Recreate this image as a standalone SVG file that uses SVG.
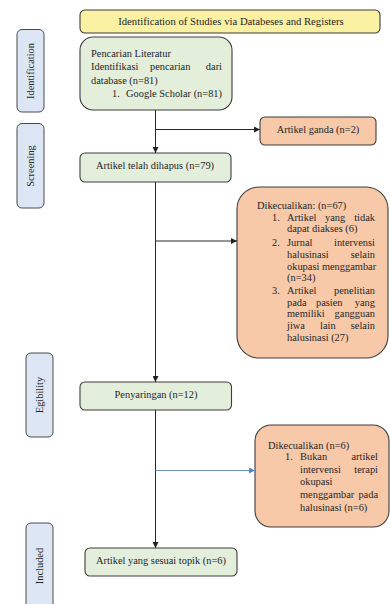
<svg xmlns="http://www.w3.org/2000/svg" width="390" height="604" viewBox="0 0 390 604">
<style>
text{font-family:"Liberation Serif","Times New Roman",serif;font-size:10.4px;fill:#262626}
.c{text-anchor:middle}
.e{text-anchor:end}
.side{fill:#dde6f4;stroke:#4a4a4a;stroke-width:1}
.grn{fill:#e3eedb;stroke:#3d3d3d;stroke-width:1.1}
.org{fill:#f7c9a9;stroke:#3d3d3d;stroke-width:1.1}
.yel{fill:#fbf1a2;stroke:#3d3d3d;stroke-width:1.1}
.ln{stroke:#2a2a2a;stroke-width:1;fill:none}
.bl{stroke:#6d93c4;stroke-width:1;fill:none}
</style>
<defs>
<marker id="ah" markerWidth="7" markerHeight="6" refX="6" refY="3" orient="auto" markerUnits="userSpaceOnUse">
<path d="M0,0 L6,3 L0,6 z" fill="#222"/>
</marker>
<marker id="ahb" markerWidth="7" markerHeight="6" refX="6" refY="3" orient="auto" markerUnits="userSpaceOnUse">
<path d="M0,0 L6,3 L0,6 z" fill="#5a83ba"/>
</marker>
</defs>
<rect width="390" height="604" fill="#ffffff"/>

<g id="side-identification">
<rect class="side" x="17" y="29.5" width="27" height="82.5" rx="5"/>
<text class="c" transform="translate(34,71) rotate(-90)">Identification</text>
</g>
<g id="side-screening">
<rect class="side" x="17" y="123.5" width="27" height="84.5" rx="5"/>
<text class="c" transform="translate(34,166) rotate(-90)">Screening</text>
</g>
<g id="side-eligibility">
<rect class="side" x="26" y="353" width="27" height="84" rx="5"/>
<text class="c" transform="translate(43,395) rotate(-90)">Egibility</text>
</g>
<g id="side-included">
<rect class="side" x="26" y="523" width="27" height="95" rx="5"/>
<text class="c" transform="translate(43,566) rotate(-90)">Included</text>
</g>

<g id="title">
<rect class="yel" x="80" y="10" width="300" height="23" rx="5"/>
<text class="c" x="231" y="24.5" style="font-size:10.7px">Identification of Studies via Databeses and Registers</text>
</g>

<g id="pencarian">
<rect class="grn" x="80" y="37" width="152" height="73" rx="13"/>
<text x="91" y="56.5">Pencarian Literatur</text>
<text x="91" y="70">Identifikasi</text>
<text x="150" y="70">pencarian</text>
<text class="e" x="222" y="70">dari</text>
<text x="91" y="83.5">database (n=81)</text>
<text x="112" y="97">1.</text>
<text class="e" x="222" y="97">Google Scholar (n=81)</text>
</g>

<g id="ganda">
<rect class="org" x="260" y="117" width="116" height="28" rx="5"/>
<text class="c" x="318" y="133">Artikel ganda (n=2)</text>
</g>

<g id="dihapus">
<rect class="grn" x="80" y="153" width="151" height="29" rx="5"/>
<text class="c" x="155" y="169">Artikel telah dihapus (n=79)</text>
</g>

<g id="dikecualikan67">
<rect class="org" x="237" y="187" width="151" height="171" rx="22"/>
<text x="257" y="208.5">Dikecualikan: (n=67)</text>
<text x="272" y="220.5">1.</text>
<text x="287" y="220.5">Artikel</text>
<text x="325" y="220.5">yang</text>
<text class="e" x="375" y="220.5">tidak</text>
<text x="287" y="231.5">dapat diakses (6)</text>
<text x="272" y="245.5">2.</text>
<text x="287" y="245.5">Jurnal</text>
<text class="e" x="375" y="245.5">intervensi</text>
<text x="287" y="257.5">halusinasi</text>
<text class="e" x="375" y="257.5">selain</text>
<text x="287" y="269.5">okupasi menggambar</text>
<text x="287" y="280.5">(n=34)</text>
<text x="272" y="293.5">3.</text>
<text x="287" y="293.5">Artikel</text>
<text class="e" x="375" y="293.5">penelitian</text>
<text x="287" y="305.5">pada</text>
<text x="316" y="305.5">pasien</text>
<text class="e" x="375" y="305.5">yang</text>
<text x="287" y="316.5">memiliki</text>
<text class="e" x="375" y="316.5">gangguan</text>
<text x="287" y="328.5">jiwa</text>
<text x="320" y="328.5">lain</text>
<text class="e" x="375" y="328.5">selain</text>
<text x="287" y="340.5">halusinasi (27)</text>
</g>

<g id="penyaringan">
<rect class="grn" x="80" y="382" width="151.5" height="28" rx="5"/>
<text class="c" x="156" y="397.5">Penyaringan (n=12)</text>
</g>

<g id="dikecualikan6">
<rect class="org" x="255" y="425" width="134" height="102" rx="16"/>
<text x="268" y="448.5">Dikecualikan (n=6)</text>
<text x="285" y="460">1.</text>
<text x="300" y="460">Bukan</text>
<text class="e" x="378" y="460">artikel</text>
<text x="300" y="472.5">intervensi</text>
<text class="e" x="378" y="472.5">terapi</text>
<text x="300" y="485">okupasi</text>
<text x="300" y="498">menggambar</text>
<text class="e" x="378" y="498">pada</text>
<text x="300" y="511">halusinasi (n=6)</text>
</g>

<g id="sesuai">
<rect class="grn" x="85" y="548" width="152" height="28" rx="5"/>
<text class="c" x="161" y="563.5">Artikel yang sesuai topik (n=6)</text>
</g>

<g id="connectors">
<path class="ln" d="M155.5,110 V153" marker-end="url(#ah)"/>
<path class="ln" d="M155.5,129.5 H260" marker-end="url(#ah)"/>
<path class="ln" d="M155.5,182 V382" marker-end="url(#ah)"/>
<path class="ln" d="M155.5,241 H237" marker-end="url(#ah)"/>
<path class="ln" d="M155.5,410 V548" marker-end="url(#ah)"/>
<path class="bl" d="M155.5,470.5 H255" marker-end="url(#ahb)"/>
</g>
</svg>
